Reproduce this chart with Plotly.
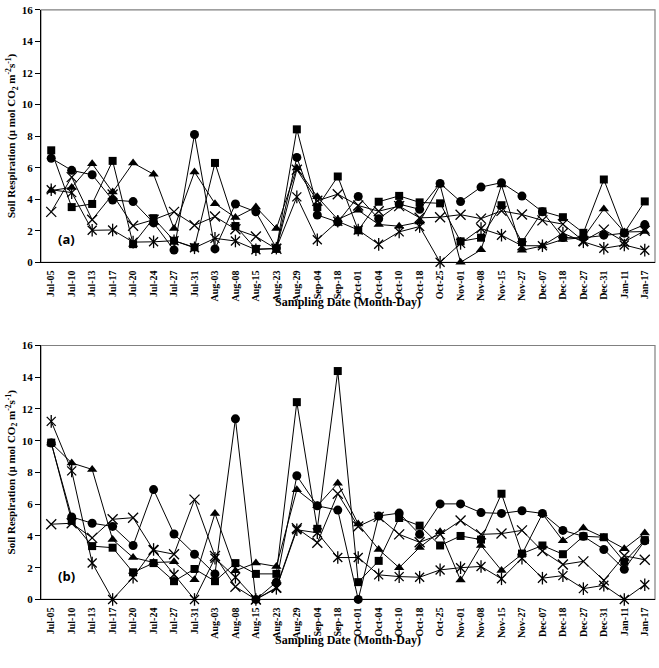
import plotly.graph_objects as go

dates = ["Jul-05", "Jul-10", "Jul-13", "Jul-17", "Jul-20", "Jul-24", "Jul-27", "Jul-31",
         "Aug-03", "Aug-08", "Aug-15", "Aug-23", "Aug-29", "Sep-04", "Sep-18",
         "Oct-01", "Oct-04", "Oct-10", "Oct-18", "Oct-25", "Nov-01", "Nov-08", "Nov-15",
         "Nov-27", "Dec-07", "Dec-18", "Dec-27", "Dec-31", "Jan-11", "Jan-17"]

# Panel (a)
a_circle = [6.6, 5.83, 5.55, 3.95, 3.85, 2.5, 0.78, 8.1, 0.85, 3.7, 3.2, 0.9, 6.65, 3.0, 2.55,
            4.17, 2.76, 3.69, 3.36, 5.0, 3.85, 4.77, 5.05, 4.2, 3.2, 1.57, 1.55, 1.72, 1.85, 2.39]
a_square = [7.1, 3.5, 3.7, 6.43, 1.15, 2.8, 1.37, 0.95, 6.3, 2.3, 0.85, 0.85, 8.43, 3.5, 5.44,
            2.03, 3.84, 4.21, 3.8, 3.74, 1.33, 1.56, 3.62, 1.28, 3.23, 2.86, 1.87, 5.25, 1.87, 3.86]
a_triangle = [4.55, 4.75, 6.25, 4.45, 6.3, 5.58, 2.14, 5.73, 3.72, 2.84, 3.5, 2.14, 5.98, 4.15, 2.72,
              3.3, 2.4, 2.29, 2.55, 4.9, 0.0, 0.79, 4.9, 0.76, 1.04, 1.45, 1.56, 3.38, 1.92, 1.95]
a_x = [3.2, 5.4, 2.7, 4.3, 2.32, 2.7, 3.2, 2.35, 2.9, 2.1, 1.64, 0.85, 5.87, 3.9, 4.32,
       3.6, 3.24, 3.56, 2.82, 2.86, 3.02, 2.77, 3.26, 3.03, 2.66, 2.42, 1.35, 2.07, 1.3, 2.0]
a_star = [4.6, 4.42, 2.03, 2.05, 1.28, 1.3, 1.37, 0.92, 1.52, 1.35, 0.8, 0.9, 4.15, 1.43, 2.6,
          2.05, 1.14, 1.93, 2.27, 0.0, 1.2, 2.14, 1.72, 1.05, 1.05, 1.85, 1.3, 0.89, 1.1, 0.77]

# Panel (b)
b_circle = [9.85, 5.2, 4.8, 4.6, 3.4, 6.92, 4.12, 2.85, 1.61, 11.38, 0.0, 1.09, 7.79, 5.9, 5.63,
            0.0, 5.26, 5.44, 4.1, 6.02, 6.02, 5.47, 5.42, 5.59, 5.42, 4.35, 3.98, 3.15, 1.9, 3.7]
b_square = [9.88, 4.95, 3.36, 3.26, 1.71, 2.29, 1.15, 1.92, 1.15, 2.29, 1.61, 1.61, 12.43, 4.45, 14.39,
            1.09, 2.43, 5.13, 4.65, 3.4, 4.0, 3.77, 6.66, 2.89, 3.4, 2.85, 3.98, 3.92, 2.38, 3.74]
b_triangle = [9.85, 8.6, 8.19, 3.77, 2.64, 2.33, 2.37, 1.24, 5.42, 1.81, 2.3, 2.08, 6.91, 5.9, 7.32,
              4.75, 3.15, 2.0, 3.28, 4.27, 1.22, 3.4, 1.83, 2.85, 5.4, 3.7, 4.5, 3.9, 3.2, 4.19]
b_x = [4.74, 4.8, 3.88, 5.05, 5.15, 3.1, 2.85, 6.29, 2.74, 0.8, 0.0, 0.75, 4.49, 3.57, 6.66,
       4.6, 5.2, 4.1, 3.6, 4.1, 4.97, 4.1, 4.15, 4.35, 3.05, 2.2, 2.4, 1.2, 2.75, 2.5]
b_star = [11.22, 8.1, 2.3, 0.0, 1.4, 3.15, 1.57, 0.0, 2.6, 1.4, 0.0, 0.7, 4.39, 4.2, 2.64,
          2.64, 1.55, 1.44, 1.4, 1.86, 2.0, 2.08, 1.3, 2.6, 1.34, 1.5, 0.68, 0.89, 0.0, 0.93]

y_ticks = [0, 2, 4, 6, 8, 10, 12, 14, 16]
panel_labels = ["(a)", "(b)"]
x_title = "Sampling Date (Month-Day)"
y_title = "Soil Respiration (\u03bc mol CO<sub>2</sub> m<sup>-2</sup>s<sup>-1</sup>)"

W, H = 659, 668
fig = go.Figure()

serif = "Liberation Serif"
line_style = dict(color="black", width=1)
idx = list(range(len(dates)))

def add_panel(xa, ya, circ, sq, tri, xs, st):
    common = dict(x=idx, xaxis=xa, yaxis=ya, showlegend=False, hoverinfo="skip", cliponaxis=False)
    fig.add_trace(go.Scatter(y=st, mode="lines+markers", line=line_style,
                             marker=dict(symbol="x-thin-open", size=9, color="black",
                                         line=dict(color="black", width=1.3)), **common))
    fig.add_trace(go.Scatter(y=st, mode="markers",
                             marker=dict(symbol="line-ns-open", size=9, color="black",
                                         line=dict(color="black", width=1.3)), **common))
    fig.add_trace(go.Scatter(y=xs, mode="lines+markers", line=line_style,
                             marker=dict(symbol="x-thin-open", size=10, color="black",
                                         line=dict(color="black", width=1.3)), **common))
    fig.add_trace(go.Scatter(y=tri, mode="lines+markers", line=line_style,
                             marker=dict(symbol="triangle-up", size=9, color="black"), **common))
    fig.add_trace(go.Scatter(y=circ, mode="lines+markers", line=line_style,
                             marker=dict(symbol="circle", size=9, color="black"), **common))
    fig.add_trace(go.Scatter(y=sq, mode="lines+markers", line=line_style,
                             marker=dict(symbol="square", size=8, color="black"), **common))

add_panel("x", "y", a_circle, a_square, a_triangle, a_x, a_star)
add_panel("x2", "y2", b_circle, b_square, b_triangle, b_x, b_star)

x0, x1 = 41 / W, 655 / W
dom_a = [(H - 261) / H, (H - 4) / H]
dom_b = [(H - 604.3) / H, (H - 345.7) / H]

ytickfont = dict(family=serif, size=11, color="black", weight="bold")
xtickfont = dict(family=serif, size=10, color="black", weight="bold")
xr = [-0.5, len(dates) - 0.5]

def xaxis_cfg(anchor):
    return dict(domain=[x0, x1], anchor=anchor, range=xr, tickmode="array",
                tickvals=idx, ticktext=dates, ticks="", tickangle=-90, tickfont=xtickfont,
                ticklabelstandoff=3,
                showline=True, linecolor="black", linewidth=1.2,
                showgrid=False, zeroline=False)

def yaxis_cfg(anchor, dom):
    return dict(domain=dom, anchor=anchor, range=[0, 16], tickvals=y_ticks,
                ticks="outside", ticklen=5, tickwidth=1, tickcolor="black", tickfont=ytickfont,
                showline=True, linecolor="black", linewidth=1.2, showgrid=False, zeroline=False)

def overlay_cfg(over, anchor, side_ticks):
    return dict(domain=[x0, x1], overlaying=over, anchor=anchor, range=xr, tickmode="array",
                tickvals=[i - 0.5 for i in range(len(dates) + 1)], ticks=side_ticks, ticklen=4,
                tickwidth=1, tickcolor="black", showticklabels=False, showline=False,
                showgrid=False, zeroline=False)

fig.update_layout(
    width=W, height=H, margin=dict(l=0, r=0, t=0, b=0),
    paper_bgcolor="white", plot_bgcolor="white",
    xaxis=xaxis_cfg("y"), yaxis=yaxis_cfg("x", dom_a),
    xaxis2=xaxis_cfg("y2"), yaxis2=yaxis_cfg("x2", dom_b),
    xaxis3=overlay_cfg("x", "y", "inside"), xaxis4=overlay_cfg("x2", "y2", "inside"),
    xaxis5=overlay_cfg("x", "y", "outside"), xaxis6=overlay_cfg("x2", "y2", "outside"),
)

shapes = []
for xrf, yrf in [("x domain", "y domain"), ("x2 domain", "y2 domain")]:
    shapes.append(dict(type="rect", xref=xrf, yref=yrf, x0=0, x1=1, y0=0, y1=1,
                       line=dict(color="#808080", width=1.2), layer="below"))
fig.update_layout(shapes=shapes)

ann = []
for lbl, xrf, yrf in [(panel_labels[0], "x domain", "y domain"), (panel_labels[1], "x2 domain", "y2 domain")]:
    ann.append(dict(text="<b>" + lbl + "</b>", xref=xrf, yref=yrf, x=0.042, y=0.093, showarrow=False,
                    font=dict(family="Open Sans", size=13, color="black"), xanchor="center", yanchor="middle"))
for yc in [(H - 301) / H, (H - 646) / H]:
    ann.append(dict(text="<b>" + x_title + "</b>", xref="paper", yref="paper", x=(x0 + x1) / 2, y=yc,
                    showarrow=False, font=dict(family=serif, size=12, color="black"),
                    xanchor="center", yanchor="middle"))
for dom in [dom_a, dom_b]:
    ann.append(dict(text="<b>" + y_title + "</b>", xref="paper", yref="paper", x=12 / W,
                    y=(dom[0] + dom[1]) / 2, showarrow=False, textangle=-90,
                    font=dict(family=serif, size=11, color="black"), xanchor="center", yanchor="middle"))
fig.update_layout(annotations=ann)

fig.write_html("out.html", config={"displayModeBar": False},
               post_script="document.body.style.margin='0px';document.body.style.overflow='hidden';")
